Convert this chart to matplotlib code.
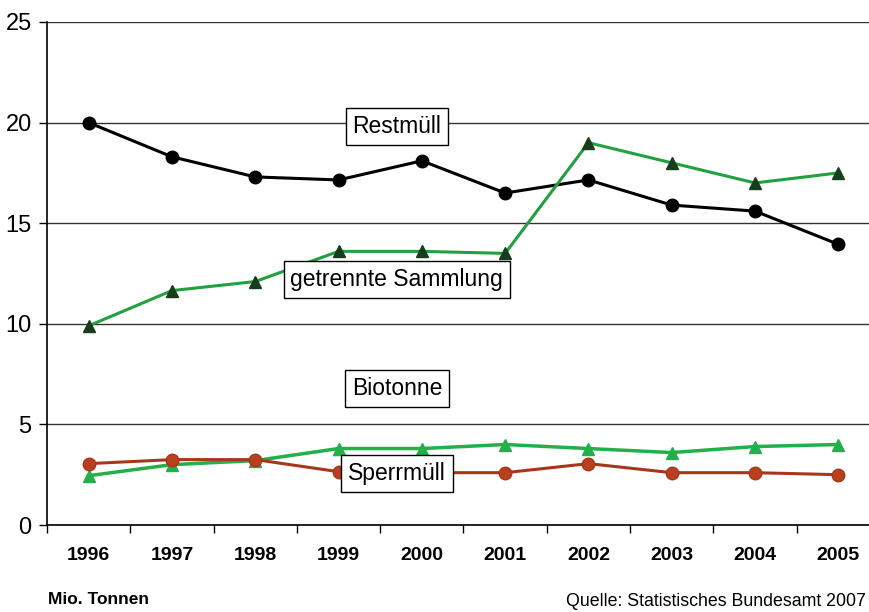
import matplotlib
matplotlib.use("Agg")
import matplotlib.pyplot as plt

years = ["1996", "1997", "1998", "1999", "2000", "2001", "2002", "2003", "2004", "2005"]
restmuell = [20.0, 18.3, 17.3, 17.15, 18.1, 16.5, 17.15, 15.9, 15.6, 13.95]
getrennt = [9.9, 11.65, 12.1, 13.6, 13.6, 13.5, 19.0, 18.0, 17.0, 17.5]
biotonne = [2.45, 3.0, 3.2, 3.8, 3.8, 4.0, 3.8, 3.6, 3.9, 4.0]
sperrmuell = [3.05, 3.25, 3.25, 2.65, 2.6, 2.6, 3.05, 2.6, 2.6, 2.5]

plt.rcParams["font.family"] = ["Liberation Sans", "DejaVu Sans"]

W, H = 870, 612
fig = plt.figure(figsize=(W / 100, H / 100), dpi=100)
ax = fig.add_axes([47 / W, (H - 525) / H, 833 / W, 503 / H])

x = list(range(len(years)))
ax.plot(x, restmuell, color="black", lw=2.2, marker="o", ms=9, zorder=4)
ax.plot(x, getrennt, color="#22a040", lw=2.2, marker="^", ms=9,
        mfc="#183d1c", mec="#183d1c", zorder=4)
ax.plot(x, biotonne, color="#22b04a", lw=2.5, marker="^", ms=9,
        mfc="#22b04a", mec="#22b04a", zorder=3)
ax.plot(x, sperrmuell, color="#a8361c", lw=2.2, marker="o", ms=9,
        mfc="#b8401e", mec="#a8361c", zorder=4)

ax.set_xlim(-0.5, 9.5)
ax.set_ylim(0, 25)
ax.set_yticks([0, 5, 10, 15, 20, 25])
ax.tick_params(axis="y", length=6, width=1, labelsize=17, pad=5, direction="out")
ax.yaxis.grid(True, color="#333333", lw=1)
ax.set_axisbelow(True)

ax.set_xticks([k - 0.5 for k in range(11)])
ax.set_xticklabels([])
ax.tick_params(axis="x", which="major", length=6, width=1, direction="out")
ax.set_xticks(x, minor=True)
ax.set_xticklabels(years, minor=True, fontsize=14, fontweight="bold")
ax.tick_params(axis="x", which="minor", length=0, pad=16)

for s in ("top", "right"):
    ax.spines[s].set_visible(False)
ax.spines["left"].set_linewidth(1.2)
ax.spines["bottom"].set_linewidth(1.2)

box = dict(boxstyle="square,pad=0.3", fc="white", ec="black", lw=1)
for label, yv in (("Restmüll", 19.8), ("getrennte Sammlung", 12.2),
                  ("Biotonne", 6.8), ("Sperrmüll", 2.55)):
    ax.text(3.7, yv, label, ha="center", va="center", fontsize=16.5,
            bbox=box, zorder=6)

fig.text(48 / W, 1 - 600 / H, "Mio. Tonnen", fontsize=12.5, fontweight="bold",
         va="center", ha="left")
fig.text(866 / W, 1 - 602 / H, "Quelle: Statistisches Bundesamt 2007",
         fontsize=12.8, va="center", ha="right")

fig.savefig("out.png", dpi=100)
